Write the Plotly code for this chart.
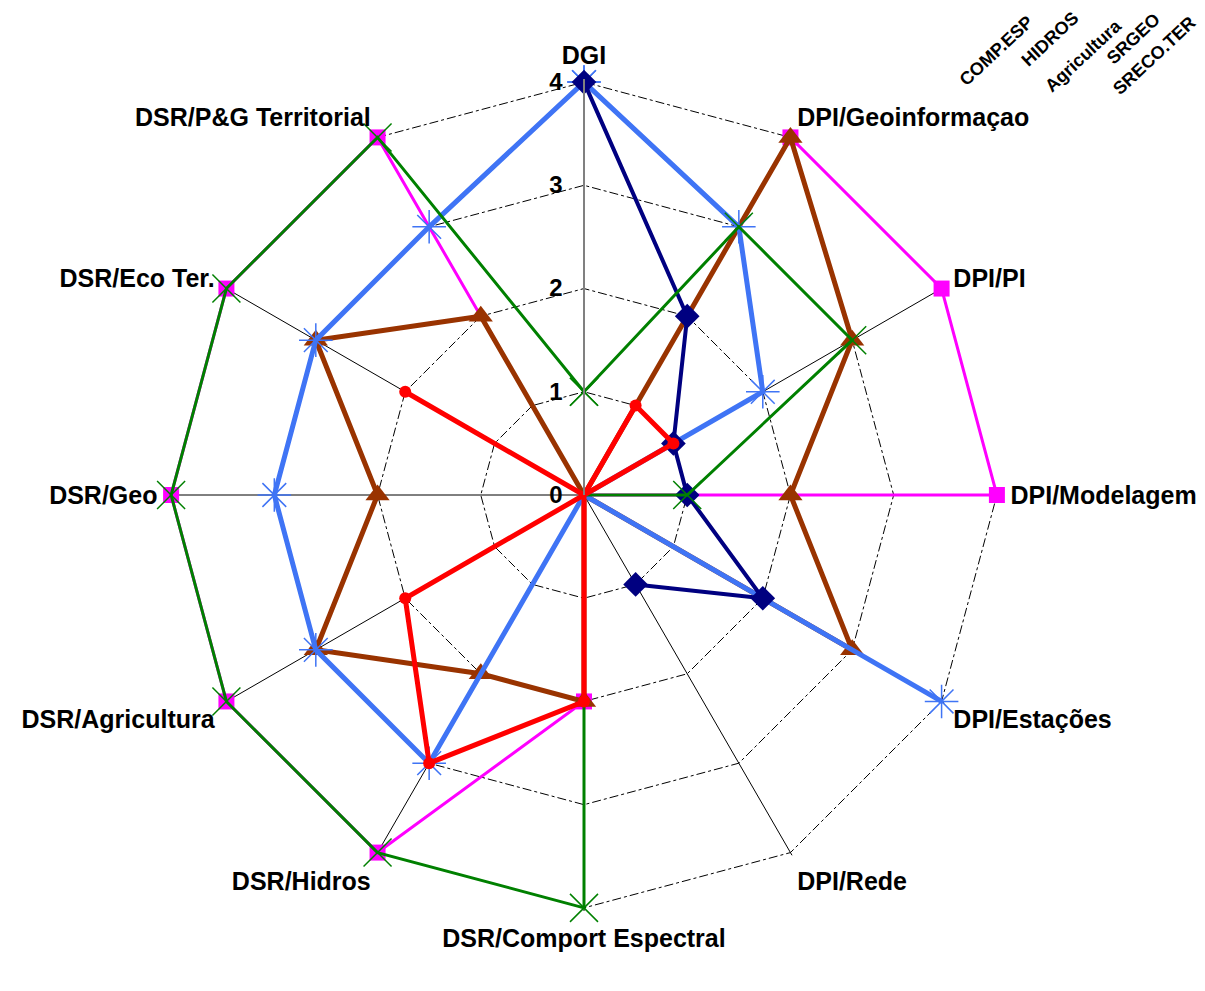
import plotly.graph_objects as go

categories = ["DGI", "DPI/Geoinformaçao", "DPI/PI", "DPI/Modelagem", "DPI/Estações",
              "DPI/Rede", "DSR/Comport Espectral", "DSR/Hidros", "DSR/Agricultura",
              "DSR/Geo", "DSR/Eco Ter.", "DSR/P&G Territorial"]

legend_labels = ["COMP.ESP", "HIDROS", "Agricultura", "SRGEO", "SRECO.TER"]

s_navy = [4, 2, 1, 1, 2, 1, None, None, None, None, None, None]
s_blue = [4, 3, 2, 0, 4, 0, 0, 3, 3, 3, 3, 3]
s_brown = [0, 4, 3, 2, 3, 0, 2, 2, 3, 2, 3, 2]
s_green = [1, 3, 3, 1, 0, 0, 4, 4, 4, 4, 4, 4]
s_magenta = [0, 4, 4, 4, 0, 0, 2, 4, 4, 4, 4, 4]
s_red = [0, 1, 1, 0, 0, 0, 2, 3, 2, 0, 2, 0]

radial_ticks = [0, 1, 2, 3, 4]

FONT = "Liberation Sans, Arial, sans-serif"

# bottom-to-top drawing order
series = [
    ("SRPGT", s_magenta, "#FF00FF", 3, "square", 16, None),
    ("HIDROS", s_brown, "#993300", 5, "triangle-up", 21, None),
    ("Agricultura", s_blue, "#3F74F5", 5, "asterisk-open", 28, 1.5),
    ("COMP.ESP", s_navy, "#000080", 4, "diamond", 19, None),
    ("SRGEO", s_green, "#008000", 3, "x-thin-open", 28, 1.5),
    ("SRECO.TER", s_red, "#FF0000", 5, "circle", 12, None),
]

fig = go.Figure()
for name, vals, color, lw, sym, ms, mlw in series:
    r = list(vals)
    th = list(categories)
    if all(v is not None for v in vals):
        r = r + [vals[0]]
        th = th + [categories[0]]
    marker = dict(symbol=sym, size=ms, color=color)
    if mlw:
        marker["line"] = dict(color=color, width=mlw)
    fig.add_trace(go.Scatterpolar(
        r=r, theta=th, mode="lines+markers", name=name,
        line=dict(color=color, width=lw), marker=marker,
        connectgaps=False, cliponaxis=False,
    ))

R = 416
cx, cy = 576, 487
W, H = 1205, 991

fig.update_layout(
    width=W, height=H,
    margin=dict(l=0, r=0, t=0, b=0),
    paper_bgcolor="white",
    showlegend=False,
    font=dict(family=FONT, color="black"),
    polar=dict(
        domain=dict(x=[(cx - R) / W, (cx + R) / W], y=[(H - cy - R) / H, (H - cy + R) / H]),
        bgcolor="white",
        gridshape="linear",
        angularaxis=dict(
            rotation=90, direction="clockwise",
            categoryorder="array", categoryarray=categories,
            showline=False, showgrid=True, gridcolor="black", gridwidth=1,
            ticks="outside", ticklen=5, tickcolor="rgba(0,0,0,0)",
            tickfont=dict(size=25, family=FONT, color="black", weight="bold"),
        ),
        radialaxis=dict(
            range=[0, 4.03], tickvals=radial_ticks, angle=90, side="counterclockwise",
            showline=True, linecolor="#808080", linewidth=2,
            showgrid=True, gridcolor="black", gridwidth=1, griddash="dashdot",
            ticks="outside", ticklen=12, tickcolor="rgba(0,0,0,0)",
            tickfont=dict(size=24, family=FONT, color="black", weight="bold"),
            tickangle=90,
        ),
    ),
)

legend_pos = [(988, 43), (1042, 31), (1075, 48), (1125, 31), (1146, 48)]
for lbl, (px, py) in zip(legend_labels, legend_pos):
    fig.add_annotation(
        text=lbl, x=px / W, y=1 - py / H, xref="paper", yref="paper",
        xanchor="center", yanchor="middle", showarrow=False, textangle=-43,
        font=dict(size=18, family=FONT, color="black", weight="bold"),
    )

fig.write_html("out.html")
